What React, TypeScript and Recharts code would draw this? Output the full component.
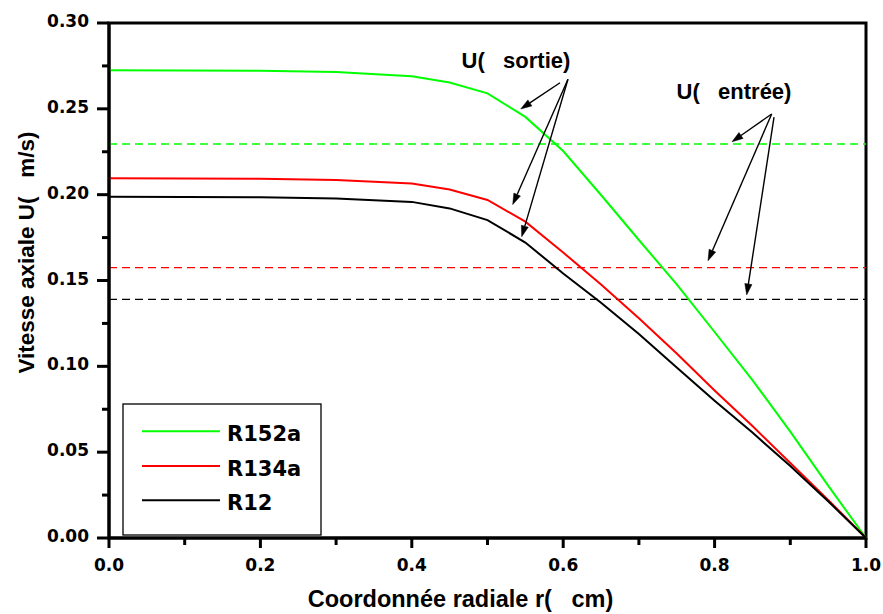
import React from 'react';
import { LineChart, Line, XAxis, YAxis, ReferenceLine, ReferenceArea, ReferenceDot } from 'recharts';

// ---------- data ----------
const radius = [0, 0.1, 0.2, 0.3, 0.4, 0.45, 0.5, 0.55, 0.6, 0.65, 0.7, 0.75, 0.8, 0.85, 0.9, 0.95, 1.0];
const outletR152a = [0.2725, 0.2724, 0.2722, 0.2714, 0.269, 0.2653, 0.259, 0.2453, 0.2254, 0.1998, 0.1736, 0.1477, 0.12, 0.092, 0.062, 0.0305, 0];
const outletR134a = [0.2095, 0.2094, 0.2092, 0.2085, 0.2065, 0.203, 0.1969, 0.1843, 0.1663, 0.1477, 0.128, 0.1075, 0.0859, 0.0652, 0.0437, 0.0222, 0];
const outletR12 = [0.1988, 0.1987, 0.1985, 0.1978, 0.1958, 0.192, 0.1852, 0.1721, 0.1541, 0.137, 0.1188, 0.0993, 0.08, 0.0614, 0.0419, 0.0214, 0];

const inletR152a = 0.2295;
const inletR134a = 0.1575;
const inletR12 = 0.139;

const xTicks = [0, 0.1, 0.2, 0.3, 0.4, 0.5, 0.6, 0.7, 0.8, 0.9, 1.0];
const yTicks = [0, 0.025, 0.05, 0.075, 0.1, 0.125, 0.15, 0.175, 0.2, 0.225, 0.25, 0.275, 0.3];

const seriesNames = ['R152a', 'R134a', 'R12'];
const seriesKeys = ['r152a', 'r134a', 'r12'];
const seriesColors = ['#00ff00', '#ff0000', '#000000'];
const inletValues = [inletR152a, inletR134a, inletR12];

const xTitle = 'Coordonnée radiale r(  cm)';
const yTitle = 'Vitesse axiale U(  m/s)';

// annotation labels (data coordinates: r, U)
const annotationLabels = [
  { text: 'U(  sortie)', r: 0.5376, u: 0.2738 },
  { text: 'U(  entrée)', r: 0.8256, u: 0.2557 },
];
// annotation arrows (from -> to, data coordinates)
const arrowFromR = [0.5958, 0.6063, 0.6063, 0.8754, 0.8754, 0.8785];
const arrowFromU = [0.2652, 0.2672, 0.2672, 0.247, 0.247, 0.2452];
const arrowToR = [0.5439, 0.5333, 0.5452, 0.823, 0.7913, 0.8424];
const arrowToU = [0.2499, 0.1942, 0.1755, 0.2308, 0.1615, 0.1416];

const rows = radius.map((r, i) => ({
  r,
  r152a: outletR152a[i],
  r134a: outletR134a[i],
  r12: outletR12[i],
}));

// ---------- styling ----------
const W = 883;
const H = 614;
const numFont = '"DejaVu Sans", sans-serif';
const textFont = '"Liberation Sans", Arial, sans-serif';
// keep the wide gap after "(" visible in SVG text
const keepSpaces = (s: string) => s.replace(/ {2}/g, '\u00a0\u00a0\u00a0');

const XTick = (props: any) => {
  const { x, y, payload } = props;
  const v = payload.value as number;
  const major = Math.round(v * 10) % 2 === 0;
  return (
    <g>
      <line x1={x} y1={y} x2={x} y2={y + (major ? 10 : 7)} stroke="#000" strokeWidth={3} />
      {major && (
        <text x={x} y={y + 33} textAnchor="middle" fontFamily={numFont} fontWeight="bold" fontSize={17} fill="#000">
          {v.toFixed(1)}
        </text>
      )}
    </g>
  );
};

const YTick = (props: any) => {
  const { x, y, payload } = props;
  const v = payload.value as number;
  const major = Math.round(v * 40) % 2 === 0;
  return (
    <g>
      <line x1={x} y1={y} x2={x - (major ? 12 : 7)} y2={y} stroke="#000" strokeWidth={3} />
      {major && (
        <text x={x - 20} y={y + 4} textAnchor="end" fontFamily={numFont} fontWeight="bold" fontSize={17} fill="#000">
          {v.toFixed(2)}
        </text>
      )}
    </g>
  );
};

const XTitle = (props: any) => {
  const vb = props.viewBox || { x: 109, y: 538, width: 757, height: 76 };
  return (
    <text
      x={vb.x + vb.width / 2 - 27}
      y={vb.y + 69}
      textAnchor="middle"
      fontFamily={textFont}
      fontWeight="bold"
      fontSize={23.5}
      fill="#000"
    >
      {keepSpaces(xTitle)}
    </text>
  );
};

const YTitle = (props: any) => {
  const vb = props.viewBox || { x: 0, y: 23, width: 109, height: 515 };
  const cx = vb.x + 34;
  const cy = vb.y + vb.height / 2 - 28;
  return (
    <text
      x={cx}
      y={cy}
      transform={`rotate(-90 ${cx} ${cy})`}
      textAnchor="middle"
      fontFamily={textFont}
      fontWeight="bold"
      fontSize={22.5}
      fill="#000"
    >
      {keepSpaces(yTitle)}
    </text>
  );
};

const arrowShape = (props: any) => {
  const { x1, y1, x2, y2 } = props;
  const dx = x2 - x1;
  const dy = y2 - y1;
  const len = Math.sqrt(dx * dx + dy * dy) || 1;
  const ux = dx / len;
  const uy = dy / len;
  const hl = 11;
  const hw = 3.6;
  const bx = x2 - ux * hl;
  const by = y2 - uy * hl;
  const p1 = `${x2},${y2}`;
  const p2 = `${bx - uy * hw},${by + ux * hw}`;
  const p3 = `${bx + uy * hw},${by - ux * hw}`;
  return (
    <g>
      <line x1={x1} y1={y1} x2={bx} y2={by} stroke="#000" strokeWidth={1.4} />
      <polygon points={`${p1} ${p2} ${p3}`} fill="#000" stroke="#000" strokeWidth={0.5} />
    </g>
  );
};

const makeLabelShape = (text: string) => (props: any) => {
  const { cx, cy } = props;
  return (
    <text
      x={cx}
      y={cy}
      textAnchor="middle"
      fontFamily={textFont}
      fontWeight="bold"
      fontSize={22}
      fill="#000"
    >
      {keepSpaces(text)}
    </text>
  );
};

const LegendBox = () => {
  const rowY = [28.3, 63, 97.3];
  return (
    <svg
      width={200}
      height={133}
      style={{ position: 'absolute', left: 122, top: 403, overflow: 'visible' }}
    >
      <rect x={1} y={1} width={198} height={131} fill="#fff" stroke="#000" strokeWidth={1.3} />
      {seriesNames.map((name, i) => (
        <g key={name}>
          <line x1={20} y1={rowY[i]} x2={98} y2={rowY[i]} stroke={seriesColors[i]} strokeWidth={2} />
          <text
            x={105}
            y={rowY[i] + 10}
            fontFamily={numFont}
            fontWeight="bold"
            fontSize={21}
            fill="#000"
          >
            {name}
          </text>
        </g>
      ))}
    </svg>
  );
};

export default function App() {
  return (
    <div style={{ position: 'absolute', left: 0, top: 0, width: W, height: H, background: '#fff' }}>
      <LineChart width={W} height={H} data={rows} margin={{ top: 23, right: 17, left: 0, bottom: 0 }}>
        <XAxis
          dataKey="r"
          type="number"
          domain={[0, 1]}
          ticks={xTicks}
          interval={0}
          tickSize={0}
          tickMargin={0}
          tickLine={false}
          tick={<XTick />}
          axisLine={{ stroke: '#000', strokeWidth: 3 }}
          height={76}
          label={{ content: (p: any) => <XTitle {...p} /> }}
        />
        <YAxis
          type="number"
          domain={[0, 0.3]}
          ticks={yTicks}
          interval={0}
          tickSize={0}
          tickMargin={0}
          tickLine={false}
          tick={<YTick />}
          axisLine={{ stroke: '#000', strokeWidth: 3 }}
          width={109}
          label={{ content: (p: any) => <YTitle {...p} /> }}
        />
        {inletValues.map((v, i) => (
          <ReferenceLine
            key={`inlet-${i}`}
            y={v}
            stroke={seriesColors[i]}
            strokeWidth={1.4}
            strokeDasharray="8 5"
          />
        ))}
        {seriesKeys.map((k, i) => (
          <Line
            key={k}
            type="linear"
            dataKey={k}
            name={seriesNames[i]}
            stroke={seriesColors[i]}
            strokeWidth={2}
            dot={false}
            activeDot={false}
            isAnimationActive={false}
          />
        ))}
        {arrowFromR.map((_, i) => (
          <ReferenceLine
            key={`arrow-${i}`}
            segment={[
              { x: arrowFromR[i], y: arrowFromU[i] },
              { x: arrowToR[i], y: arrowToU[i] },
            ]}
            shape={arrowShape}
          />
        ))}
        {annotationLabels.map((a) => (
          <ReferenceDot key={a.text} x={a.r} y={a.u} r={0} shape={makeLabelShape(a.text)} />
        ))}
        <ReferenceArea x1={0} x2={1} y1={0} y2={0.3} fill="#fff" fillOpacity={0} stroke="#000" strokeWidth={3} />
      </LineChart>
      <LegendBox />
    </div>
  );
}
